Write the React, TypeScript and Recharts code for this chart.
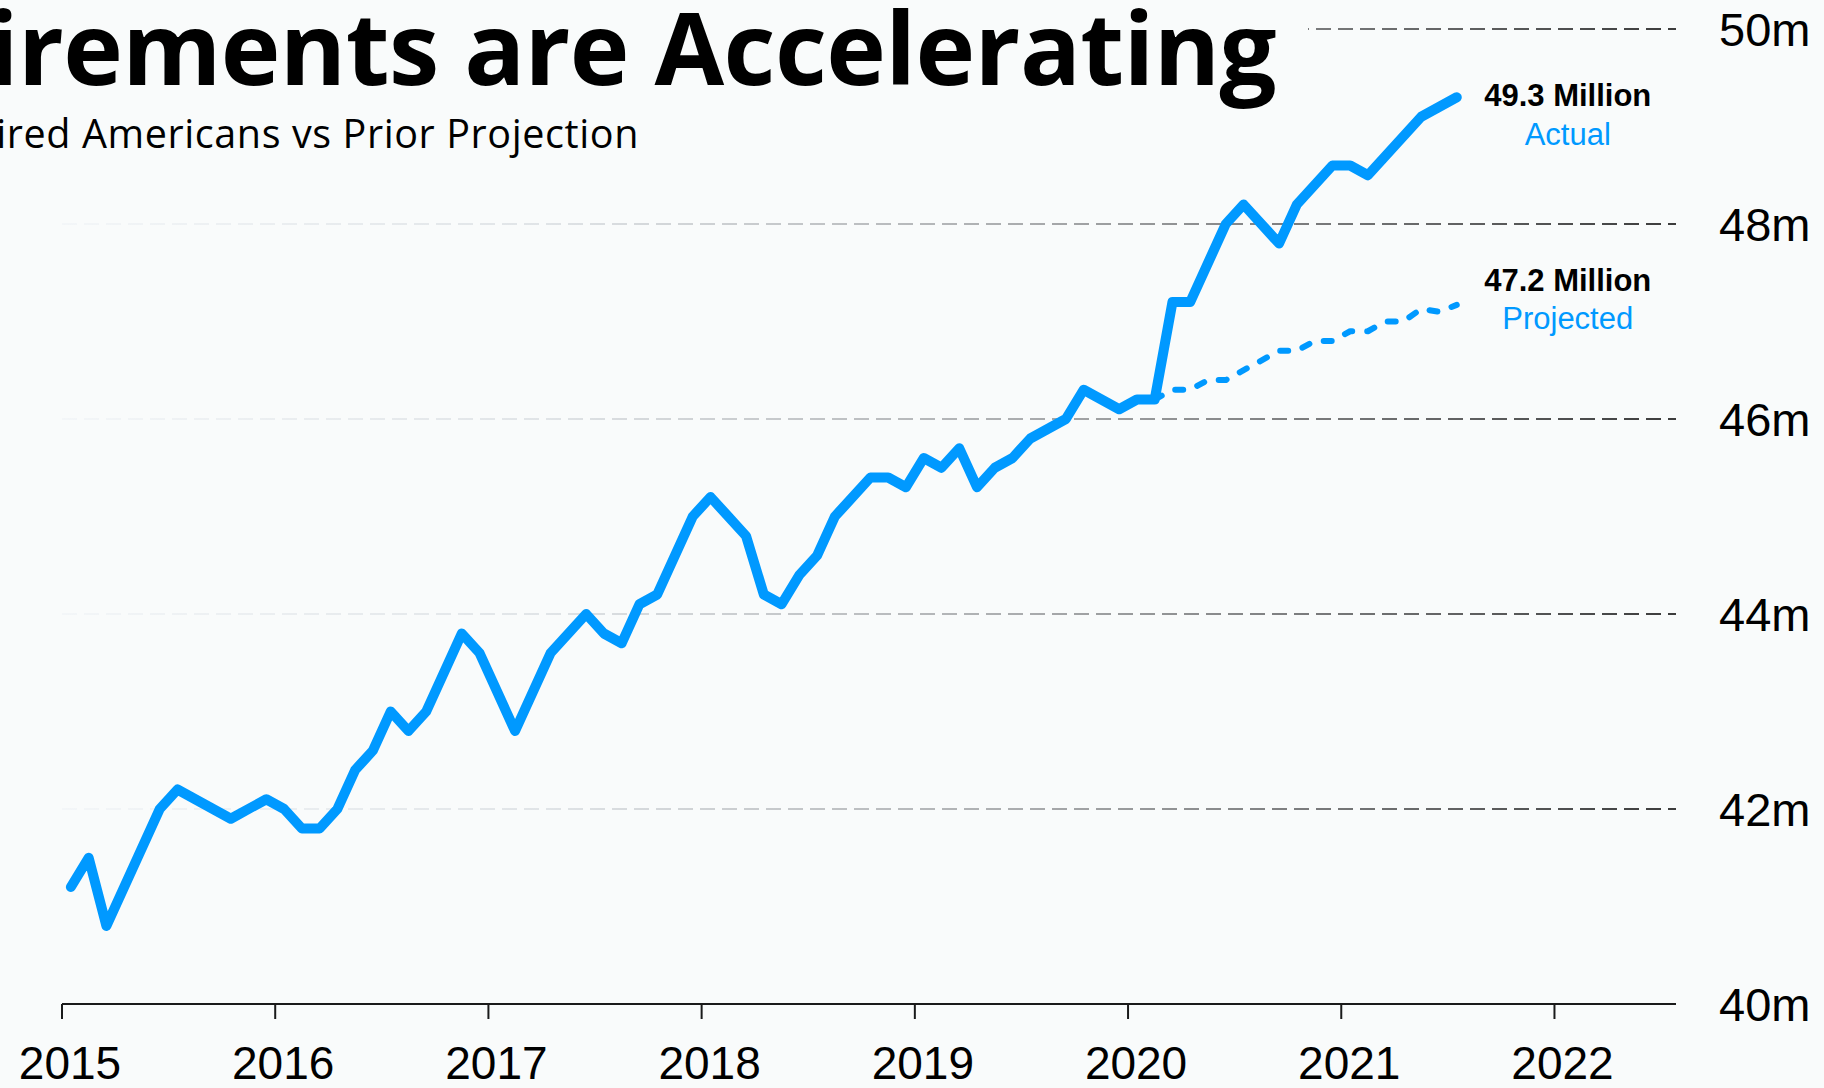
import { LineChart, Line, XAxis, YAxis, CartesianGrid } from "recharts";

const BG = "#f9fbfb";
const BLUE = "#0099ff";
const SANS = "'Liberation Sans', Arial, sans-serif";
const TITLE_FONT = "'Open Sans', 'Noto Sans', sans-serif";

const yearTicks = [2015, 2016, 2017, 2018, 2019, 2020, 2021, 2022];
const valueTicks = [40, 42, 44, 46, 48, 50];

// months counted from Jan 2015, only the months where the line bends
const actualMonths = [
  0, 1, 2, 5, 6, 9, 11, 12, 13, 14, 15, 16, 17, 18, 19, 20, 22, 23, 25, 27,
  29, 30, 31, 32, 33, 35, 36, 38, 39, 40, 41, 42, 43, 45, 46, 47, 48, 49, 50,
  51, 52, 53, 54, 56, 57, 59, 60, 61, 62, 63, 65, 66, 68, 69, 71, 72, 73, 76,
  78,
];
const actualValues = [
  41.2, 41.5, 40.8, 42.0, 42.2, 41.9, 42.1, 42.0, 41.8, 41.8, 42.0, 42.4, 42.6,
  43.0, 42.8, 43.0, 43.8, 43.6, 42.8, 43.6, 44.0, 43.8, 43.7, 44.1, 44.2, 45.0,
  45.2, 44.8, 44.2, 44.1, 44.4, 44.6, 45.0, 45.4, 45.4, 45.3, 45.6, 45.5, 45.7,
  45.3, 45.5, 45.6, 45.8, 46.0, 46.3, 46.1, 46.2, 46.2, 47.2, 47.2, 48.0, 48.2,
  47.8, 48.2, 48.6, 48.6, 48.5, 49.1, 49.3,
];

const projectedMonths = [61, 62, 63, 64, 65, 68, 69, 70, 71, 72, 73, 74, 75, 76, 77, 78];
const projectedValues = [
  46.2, 46.3, 46.3, 46.4, 46.4, 46.7, 46.7, 46.8, 46.8, 46.9, 46.9, 47.0, 47.0,
  47.13, 47.1, 47.17,
];

const toYear = (m: number) => 2015 + (m + 0.5) / 12;

const actualData = actualMonths.map((m, i) => ({ t: toYear(m), v: actualValues[i] }));
const projectedData = projectedMonths.map((m, i) => ({ t: toYear(m), v: projectedValues[i] }));

// text block drawn next to the last point of a series
const endLabel =
  (count: number, title: string, sub: string, titleDy: number, subDy: number) =>
  (p: any) => {
    if (p.index !== count - 1) return <g key={`d-${p.index}`} />;
    const x = p.cx + 111;
    return (
      <g key={`d-${p.index}`}>
        <text
          x={x}
          y={p.cy + titleDy}
          textAnchor="middle"
          fontFamily={SANS}
          fontWeight={700}
          fontSize={31}
          fill="#000"
        >
          {title}
        </text>
        <text
          x={x}
          y={p.cy + subDy}
          textAnchor="middle"
          fontFamily={SANS}
          fontSize={31}
          fill={BLUE}
        >
          {sub}
        </text>
      </g>
    );
  };

export default function App() {
  return (
    <div
      style={{
        position: "fixed",
        left: 0,
        top: 0,
        width: 1824,
        height: 1088,
        background: BG,
        overflow: "hidden",
      }}
    >
      <svg width={0} height={0} style={{ position: "absolute" }}>
        <defs>
          <linearGradient id="gridFade" gradientUnits="userSpaceOnUse" x1={62} y1={0} x2={1676} y2={0}>
            <stop offset="0" stopColor="#f3f6f8" />
            <stop offset="0.3" stopColor="#e0e4e7" />
            <stop offset="0.6" stopColor="#a9abad" />
            <stop offset="1" stopColor="#3c3c3c" />
          </linearGradient>
        </defs>
      </svg>

      <LineChart width={1824} height={1088} margin={{ top: 29, right: 0, bottom: 0, left: 62 }}>
        <CartesianGrid
          vertical={false}
          stroke="url(#gridFade)"
          strokeWidth={2}
          strokeDasharray="15 7"
        />
        <XAxis
          dataKey="t"
          type="number"
          domain={[2015, 2022.57]}
          ticks={yearTicks}
          interval={0}
          allowDataOverflow
          height={84}
          tickSize={15}
          tickMargin={27}
          axisLine={{ stroke: "#1a1a1a", strokeWidth: 2 }}
          tickLine={{ stroke: "#1a1a1a", strokeWidth: 2 }}
          tick={{ fill: "#000", fontSize: 46, fontFamily: SANS, dx: 8 }}
        />
        <YAxis
          orientation="right"
          type="number"
          domain={[40, 50]}
          ticks={valueTicks}
          interval={0}
          width={148}
          axisLine={false}
          tickLine={false}
          tickSize={0}
          tickMargin={43}
          tickFormatter={(v) => `${v}m`}
          tick={{ fill: "#000", fontSize: 47, fontFamily: SANS }}
        />
        <Line
          data={projectedData}
          dataKey="v"
          type="linear"
          stroke={BLUE}
          strokeWidth={6}
          strokeDasharray="8 15"
          strokeLinecap="round"
          strokeLinejoin="round"
          dot={endLabel(projectedData.length, "47.2 Million", "Projected", -14, 24)}
          activeDot={false}
          isAnimationActive={false}
        />
        <Line
          data={actualData}
          dataKey="v"
          type="linear"
          stroke={BLUE}
          strokeWidth={10}
          strokeLinecap="round"
          strokeLinejoin="round"
          dot={endLabel(actualData.length, "49.3 Million", "Actual", 9, 48)}
          activeDot={false}
          isAnimationActive={false}
        />
      </LineChart>

      <svg
        width={1308}
        height={168}
        style={{ position: "absolute", left: 0, top: 0 }}
      >
        <rect x={0} y={0} width={1308} height={168} fill={BG} />
        <text
          x={1276}
          y={85}
          textAnchor="end"
          fontFamily={TITLE_FONT}
          fontWeight={700}
          fontSize={101}
          letterSpacing={-0.6}
          fill="#000"
        >
          Retirements are Accelerating
        </text>
        <text
          x={639}
          y={148}
          textAnchor="end"
          fontFamily={TITLE_FONT}
          fontSize={39.5}
          letterSpacing={0.6}
          fill="#000"
        >
          Retired Americans vs Prior Projection
        </text>
      </svg>
    </div>
  );
}
